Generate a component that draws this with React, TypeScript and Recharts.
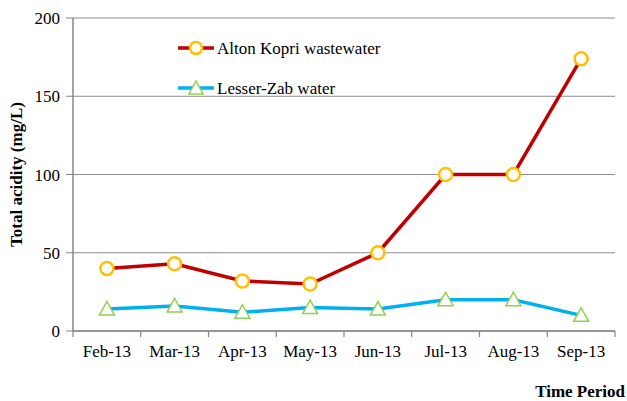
import React from 'react';
import { LineChart, Line, XAxis, YAxis, CartesianGrid } from 'recharts';

const months = ['Feb-13', 'Mar-13', 'Apr-13', 'May-13', 'Jun-13', 'Jul-13', 'Aug-13', 'Sep-13'];
const altonKopri = [40, 43, 32, 30, 50, 100, 100, 174];
const lesserZab = [14, 16, 12, 15, 14, 20, 20, 10];
const yTicks = [0, 50, 100, 150, 200];

const data = months.map((m, i) => ({ month: m, alton: altonKopri[i], zab: lesserZab[i] }));

const W = 627;
const H = 401;
const LEFT = 73;
const RIGHT = 12;
const TOP = 18;
const BOTTOM = 70;
const plotW = W - LEFT - RIGHT;
const band = plotW / months.length;
const FONT = '"Liberation Serif", "Times New Roman", serif';
const AXIS = '#868686';
const FS = 17;

const XTick = (props: any) => {
  const { x, y, payload, index } = props;
  const left = x - band / 2;
  return (
    <g>
      <line x1={left} x2={left} y1={y} y2={y + 6} stroke={AXIS} strokeWidth={1.2} />
      {index === months.length - 1 && (
        <line x1={x + band / 2} x2={x + band / 2} y1={y} y2={y + 6} stroke={AXIS} strokeWidth={1.2} />
      )}
      <text x={x} y={y + 26} textAnchor="middle" fontFamily={FONT} fontSize={FS} fill="#000">
        {payload.value}
      </text>
    </g>
  );
};

const Circle = (props: any) => {
  const { cx, cy } = props;
  return <circle cx={cx} cy={cy} r={6.5} fill="#fff" stroke="#FFC000" strokeWidth={2.5} />;
};

const Tri = (props: any) => {
  const { cx, cy } = props;
  const s = 7.5;
  return (
    <polygon
      points={`${cx},${cy - s} ${cx - s},${cy + s * 0.8} ${cx + s},${cy + s * 0.8}`}
      fill="#fff"
      stroke="#92D050"
      strokeWidth={1.5}
    />
  );
};

const LegendBox = () => (
  <svg width={230} height={60} style={{ position: 'absolute', left: 178, top: 38, overflow: 'visible' }}>
    <line x1={0} x2={36} y1={10} y2={10} stroke="#C00000" strokeWidth={3.5} />
    <circle cx={18} cy={10} r={6} fill="#fff" stroke="#FFC000" strokeWidth={2.5} />
    <text x={39} y={16} fontFamily={FONT} fontSize={FS} fill="#000">Alton Kopri wastewater</text>
    <line x1={0} x2={36} y1={50} y2={50} stroke="#00B0F0" strokeWidth={3.5} />
    <polygon points="18,43 11,56 25,56" fill="#fff" stroke="#92D050" strokeWidth={1.5} />
    <text x={39} y={56} fontFamily={FONT} fontSize={FS} fill="#000">Lesser-Zab water</text>
  </svg>
);

export default function App() {
  return (
    <div style={{ position: 'absolute', left: 0, top: 0, width: W, height: H, background: '#fff' }}>
      <LineChart width={W} height={H} data={data} margin={{ top: TOP, right: RIGHT, left: 0, bottom: 0 }}>
        <CartesianGrid vertical={false} stroke="#8c8c8c" strokeWidth={1} />
        <XAxis
          dataKey="month"
          height={BOTTOM}
          padding={{ left: band / 2, right: band / 2 }}
          axisLine={{ stroke: AXIS, strokeWidth: 1.5 }}
          tickLine={false}
          tickSize={0}
          tickMargin={0}
          tick={<XTick />}
          interval={0}
        />
        <XAxis xAxisId="top" orientation="top" dataKey="month" height={0} tick={false} tickLine={false} axisLine={{ stroke: '#595959', strokeWidth: 1.5 }} />
        <YAxis
          width={LEFT}
          domain={[0, 200]}
          ticks={yTicks}
          axisLine={{ stroke: AXIS, strokeWidth: 1.5 }}
          tickLine={{ stroke: AXIS }}
          tickSize={7}
          tickMargin={6}
          tick={{ fontFamily: FONT, fontSize: FS, fill: '#000' }}
          label={{
            value: 'Total acidity (mg/L)',
            angle: -90,
            position: 'insideLeft',
            offset: 16,
            style: { textAnchor: 'middle', fontFamily: FONT, fontSize: FS, fontWeight: 'bold', fill: '#000' },
          }}
        />
        <YAxis yAxisId="right" orientation="right" width={0} domain={[0, 200]} tick={false} tickLine={false} axisLine={{ stroke: '#595959', strokeWidth: 1.5 }} />
        <Line
          type="linear"
          dataKey="alton"
          stroke="#C00000"
          strokeWidth={3.5}
          dot={<Circle />}
          activeDot={false}
          isAnimationActive={false}
        />
        <Line
          type="linear"
          dataKey="zab"
          stroke="#00B0F0"
          strokeWidth={3.5}
          dot={<Tri />}
          activeDot={false}
          isAnimationActive={false}
        />
      </LineChart>
      <LegendBox />
      <div
        style={{
          position: 'absolute',
          right: 2,
          top: 382,
          fontFamily: FONT,
          fontSize: FS,
          fontWeight: 'bold',
          color: '#000',
          lineHeight: '19px',
        }}
      >
        Time Period
      </div>
    </div>
  );
}
